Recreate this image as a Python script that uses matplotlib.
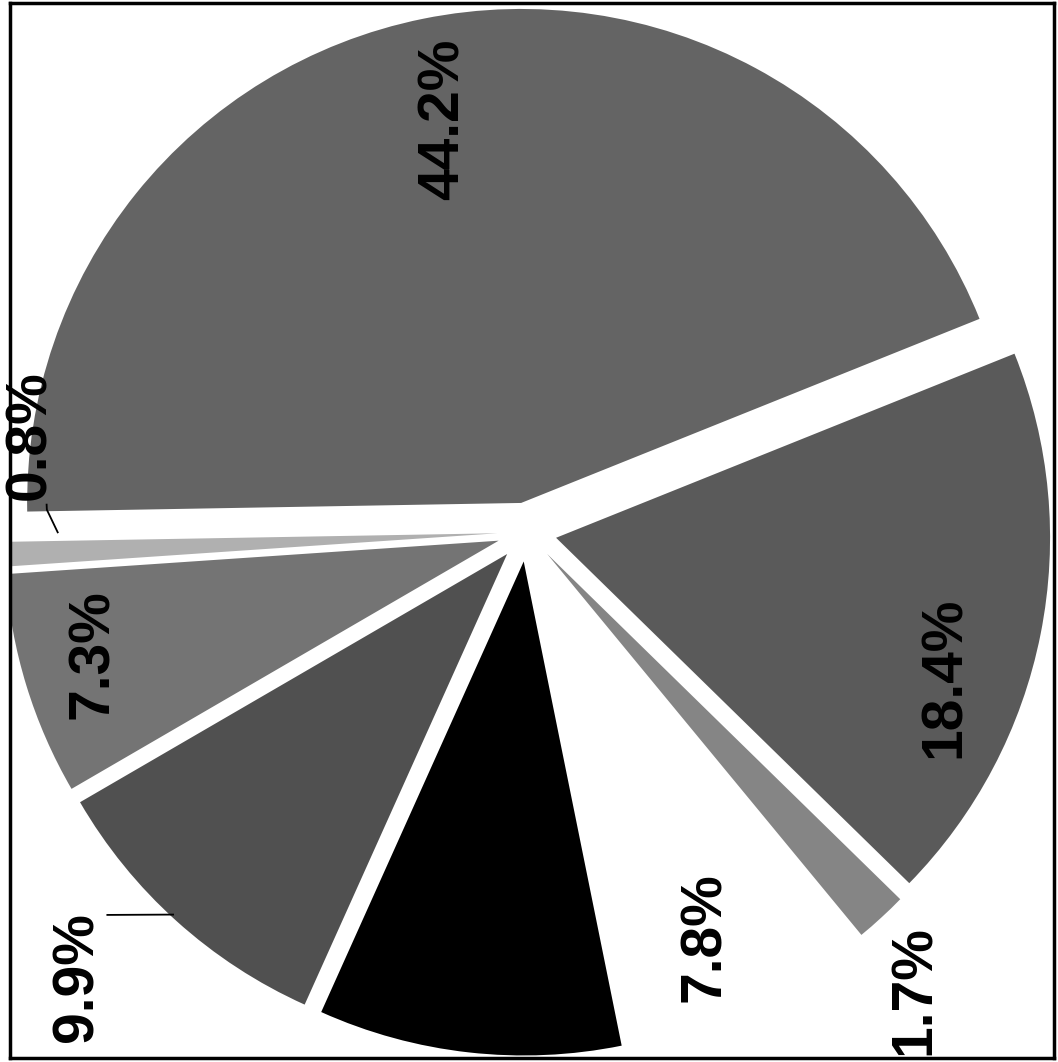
import numpy as np
import matplotlib
matplotlib.use('Agg')
import matplotlib.pyplot as plt

plt.rcParams['font.family'] = ['Liberation Sans', 'DejaVu Sans']

# 数据（按顺时针顺序，从左侧水平方向开始）
shares = [44.2, 18.4, 1.7, 7.8, 9.9, 9.9, 7.3, 0.8]
labels = ['44.2%', '18.4%', '1.7%', '7.8%', '9.9%', '9.9%', '7.3%', '0.8%']
colors = ['#646464', '#5a5a5a', '#858585', '#ffffff', '#000000', '#505050', '#747474', '#b0b0b0']

# 标签位置: 相对半径 + 相对扇区中线的角度偏移
label_r = [0.853, 0.895, 1.215, 0.895, 0.7, 1.28, 0.913, 1.024]
label_dang = [0.0, -8.0, -2.3, -1.8, 0.0, -3.3, -1.3, -13.5]

W, H = 1058, 1062
fig = plt.figure(figsize=(W / 100, H / 100), dpi=100)
fig.patch.set_facecolor('white')

# 画布坐标 = 像素坐标（y 向上）
x0, x1 = 10, 1054
y0, y1 = H - 1058, H - 3
ax = fig.add_axes([x0 / W, y0 / H, (x1 - x0) / W, (y1 - y0) / H])

cx, cy = 527, H - 532
R = 494

# explode 在 matplotlib 里是绝对偏移量，这里按半径换算
wedges, _ = ax.pie(shares, colors=colors, startangle=181, counterclock=False,
                   explode=[0.06 * R] * len(shares), radius=R, center=(cx, cy),
                   frame=True, wedgeprops=dict(linewidth=0))
for w in wedges:
    w.set_clip_on(True)
    w.set_clip_path(ax.patch)


def polar(ang, frac):
    a = np.deg2rad(ang)
    return cx + frac * R * np.cos(a), cy + frac * R * np.sin(a)


mids = []
for w, lab, r, da in zip(wedges, labels, label_r, label_dang):
    mid = (w.theta1 + w.theta2) / 2.0
    mids.append(mid)
    tx, ty = polar(mid + da, r)
    ax.text(tx, ty, lab, rotation=90, ha='center', va='center',
            fontsize=41, fontweight='bold', color='black', clip_on=False)

# 引导线
m08 = mids[7]
p = [polar(m08 - 2.4, 0.95), polar(m08 - 5.1, 0.973), polar(m08 - 5.7, 0.974)]
ax.plot([q[0] for q in p], [q[1] for q in p], color='black', lw=1.3)
m99 = mids[5]
p = [polar(m99 - 0.75, 1.055), polar(m99 - 5.6, 1.15)]
ax.plot([q[0] for q in p], [q[1] for q in p], color='black', lw=1.3)

ax.set_xlim(x0, x1)
ax.set_ylim(y0, y1)
ax.set_xticks([])
ax.set_yticks([])
for s in ax.spines.values():
    s.set_linewidth(2.5)
    s.set_color('black')

fig.savefig('out.png', dpi=100, facecolor='white')
